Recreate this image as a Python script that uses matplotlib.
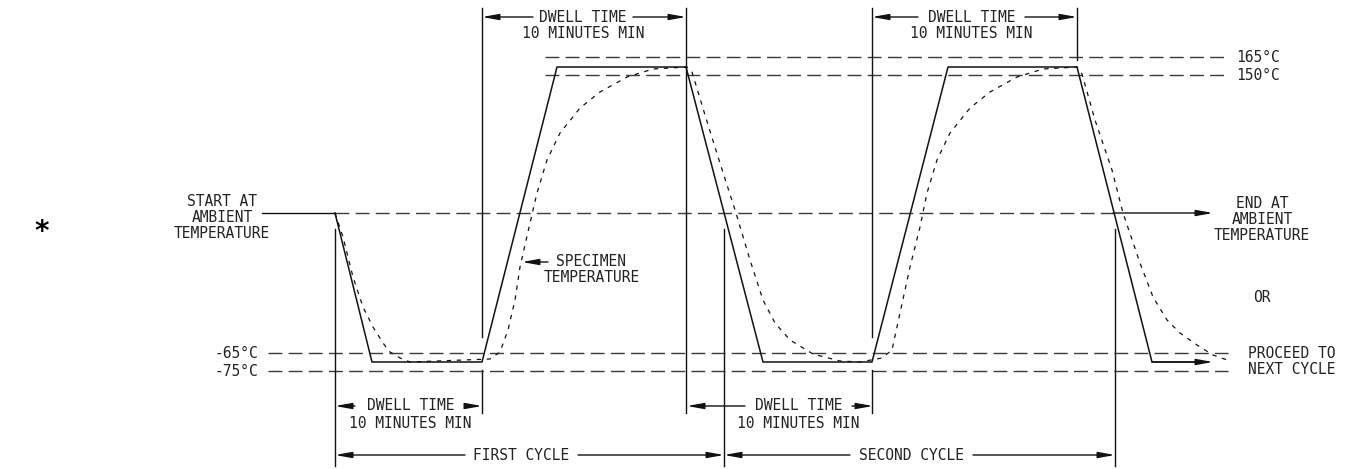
import matplotlib
matplotlib.use("Agg")
import matplotlib.pyplot as plt

# schematic coordinates (time -> x, temperature level -> y, y grows downward)
level_labels = ['165°C', '150°C', '-65°C', '-75°C']
level_y = [57, 75, 353, 371]
level_x0 = [545, 545, 268, 268]
level_x1 = [1227, 1227, 1228, 1228]
ambient_y = 213

# chamber (solid) profile
chamber_t = [335, 372, 482, 557, 686, 763, 872, 948, 1077, 1152, 1205]
chamber_y = [213, 362, 362, 67, 67, 362, 362, 67, 67, 362, 362]

# specimen (dotted) profile
specimen_t = [335, 343, 353, 363, 373, 383, 390, 400, 410,
              490, 500, 508, 515, 520, 530, 537, 547, 560, 580, 600, 627, 653, 687,
              692, 705, 719, 736, 750, 763, 775, 790, 813, 840, 860,
              882, 892, 900, 910, 920, 927, 937, 950, 970, 990, 1017, 1043, 1077,
              1082, 1095, 1112, 1123, 1140, 1153, 1167, 1180, 1197, 1213, 1230]
specimen_y = [213, 237, 277, 307, 327, 343, 352, 358, 362,
              359, 352, 330, 300, 267, 223, 193, 160, 133, 108, 92, 77, 69, 67,
              72, 115, 160, 213, 260, 300, 323, 340, 354, 361, 362,
              358, 350, 313, 267, 227, 193, 160, 133, 108, 92, 77, 69, 67,
              74, 120, 170, 213, 263, 297, 320, 333, 345, 355, 361]

# extension lines
ext_x = [335, 482, 482, 686, 724, 872, 872, 1077, 1115]
ext_y0 = [229, 8, 370, 8, 229, 8, 370, 8, 229]
ext_y1 = [466, 337, 413, 413, 466, 337, 413, 60, 466]

# dimensions: start, end, y, gap left, gap right, text lines
dim_x0 = [482, 872, 335, 687, 335, 724]
dim_x1 = [686, 1077, 482, 873, 724, 1115]
dim_y = [17, 17, 406, 406, 455, 455]
dim_gl = [533, 918, 355, 745, 465, 850]
dim_gr = [633, 1025, 466, 852, 578, 973]
dim_text = ['DWELL TIME', 'DWELL TIME', 'DWELL TIME', 'DWELL TIME', 'FIRST CYCLE', 'SECOND CYCLE']
dim_sub = ['10 MINUTES MIN', '10 MINUTES MIN', '10 MINUTES MIN', '10 MINUTES MIN', '', '']

ink = '#111111'
dash_col = '#3a3a3a'
font = dict(family='DejaVu Sans Mono', fontsize=10.5, color='#222222')

fig = plt.figure(figsize=(13.52, 4.69), dpi=100)
ax = fig.add_axes([0, 0, 1, 1])
ax.set_xlim(0, 1352)
ax.set_ylim(469, 0)
ax.axis('off')


def arrow(x_from, y_from, x_to, y_to):
    ax.annotate('', xy=(x_to, y_to), xytext=(x_from, y_from),
                arrowprops=dict(arrowstyle='-|>,head_length=1.0,head_width=0.18',
                                color=ink, lw=1.0, shrinkA=0, shrinkB=0))


# reference temperature levels
for lab, y, x0, x1 in zip(level_labels, level_y, level_x0, level_x1):
    ax.plot([x0, x1], [y, y], color=dash_col, lw=1.0, dashes=(10, 4.5))
    if y < ambient_y:
        ax.text(x1 + 9, y, lab, ha='left', va='center', **font)
    else:
        ax.text(x0 - 10, y, lab, ha='right', va='center', **font)

# ambient line
ax.plot([262, 335], [ambient_y, ambient_y], color=ink, lw=1.0)
ax.plot([335, 1113], [ambient_y, ambient_y], color=dash_col, lw=1.0, dashes=(10, 4.5))
arrow(1113, ambient_y, 1213, ambient_y)

# profiles
ax.plot(chamber_t, chamber_y, color=ink, lw=1.1)
arrow(chamber_t[-2], chamber_y[-1], 1213, chamber_y[-1])
ax.plot(specimen_t, specimen_y, color=ink, lw=0.9, dashes=(3.5, 4.5))

# extension lines
for x, y0, y1 in zip(ext_x, ext_y0, ext_y1):
    ax.plot([x, x], [y0, y1], color=ink, lw=1.0)

# dimension arrows with text
for x0, x1, y, gl, gr, t, s in zip(dim_x0, dim_x1, dim_y, dim_gl, dim_gr, dim_text, dim_sub):
    arrow(gl, y, x0, y)
    arrow(gr, y, x1, y)
    xc = (gl + gr) / 2
    ax.text(xc, y, t, ha='center', va='center', **font)
    if s:
        ax.text(xc, y + 17, s, ha='center', va='center', **font)

# side notes
ax.text(222, 201, 'START AT', ha='center', va='center', **font)
ax.text(222, 217, 'AMBIENT', ha='center', va='center', **font)
ax.text(222, 233, 'TEMPERATURE', ha='center', va='center', **font)

ax.text(1262, 203, 'END AT', ha='center', va='center', **font)
ax.text(1262, 219, 'AMBIENT', ha='center', va='center', **font)
ax.text(1262, 235, 'TEMPERATURE', ha='center', va='center', **font)
ax.text(1262, 298, 'OR', ha='center', va='center', **font)
ax.text(1292, 353, 'PROCEED TO', ha='center', va='center', **font)
ax.text(1292, 370, 'NEXT CYCLE', ha='center', va='center', **font)

ax.text(556, 262, 'SPECIMEN', ha='left', va='center', **font)
ax.text(592, 278, 'TEMPERATURE', ha='center', va='center', **font)
arrow(548, 262, 522, 262)

ax.text(42, 232, '*', ha='center', va='center', fontsize=20, fontweight='bold',
        family='DejaVu Sans', color='black')

fig.savefig('out.png', dpi=100)
